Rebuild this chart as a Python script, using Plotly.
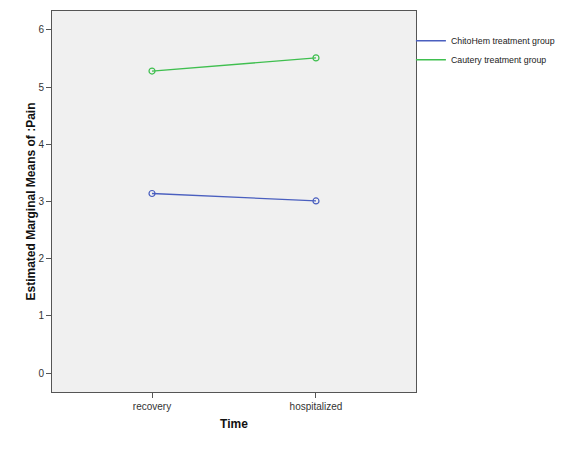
import plotly.graph_objects as go

# Estimated marginal means of pain by time
time_labels = ["recovery", "hospitalized"]
group_names = ["ChitoHem treatment group", "Cautery treatment group"]
chitohem_means = [3.14, 3.01]
cautery_means = [5.28, 5.51]

colors = ['#4a5fbf', '#3fbf4f']

fig = go.Figure()

for name, vals, col in zip(group_names, [chitohem_means, cautery_means], colors):
    fig.add_trace(go.Scatter(x=time_labels, y=vals,
                             mode='lines+markers',
                             name=name,
                             showlegend=False,
                             line=dict(color=col, width=1.3),
                             marker=dict(symbol='circle-open', size=6, color=col, line=dict(width=1.2))
                             ))
    # line-only entry for the legend
    fig.add_trace(go.Scatter(x=[None], y=[None], mode='lines', name=name,
                             line=dict(color=col, width=1.3)))

fig.update_layout(
    width=560, height=446,
    margin=dict(l=44, r=152, t=3, b=62, autoexpand=False),
    paper_bgcolor='white',
    plot_bgcolor='#f0f0f0',
    font=dict(family='Liberation Sans, Arial', size=10, color='#333333'),
    showlegend=True,
    legend=dict(x=0.986, y=0.96, xanchor='left', yanchor='top',
                font=dict(size=8.8, color='#222222'),
                bgcolor='rgba(0,0,0,0)', tracegroupgap=0),
    xaxis=dict(
        type='category',
        range=[-0.61, 1.61],
        showgrid=False, zeroline=False,
        showline=True, linecolor='#555555', linewidth=1, mirror=True,
        ticks='outside', ticklen=5, tickcolor='#555555',
        tickfont=dict(size=10, color='#333333'),
        title=dict(text='<b>Time</b>', font=dict(size=12, color='#111111'), standoff=8)
    ),
    yaxis=dict(
        range=[-0.33, 6.33],
        tickvals=[0, 1, 2, 3, 4, 5, 6],
        showgrid=False, zeroline=False,
        showline=True, linecolor='#555555', linewidth=1, mirror=True,
        ticks='outside', ticklen=5, tickcolor='#555555',
        tickfont=dict(size=10, color='#333333'),
        title=dict(text='<b>Estimated Marginal Means of :Pain</b>', font=dict(size=12, color='#111111'), standoff=0)
    )
)

fig.write_html("out.html")
